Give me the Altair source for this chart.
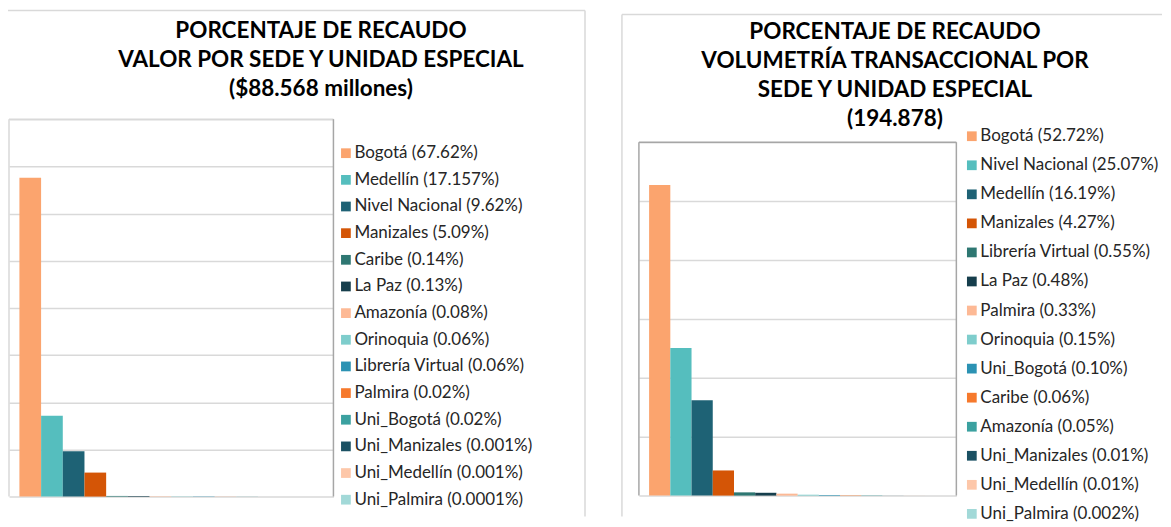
import altair as alt
import pandas as pd

# ---------------- data ----------------
left_names = ["Bogotá", "Medellín", "Nivel Nacional", "Manizales", "Caribe", "La Paz",
              "Amazonía", "Orinoquia", "Librería Virtual", "Palmira", "Uni_Bogotá",
              "Uni_Manizales", "Uni_Medellín", "Uni_Palmira"]
left_values = [67.62, 17.157, 9.62, 5.09, 0.14, 0.13, 0.08, 0.06, 0.06, 0.02, 0.02,
               0.001, 0.001, 0.0001]
left_pct = ["67.62%", "17.157%", "9.62%", "5.09%", "0.14%", "0.13%", "0.08%", "0.06%",
            "0.06%", "0.02%", "0.02%", "0.001%", "0.001%", "0.0001%"]

right_names = ["Bogotá", "Nivel Nacional", "Medellín", "Manizales", "Librería Virtual",
               "La Paz", "Palmira", "Orinoquia", "Uni_Bogotá", "Caribe", "Amazonía",
               "Uni_Manizales", "Uni_Medellín", "Uni_Palmira"]
right_values = [52.72, 25.07, 16.19, 4.27, 0.55, 0.48, 0.33, 0.15, 0.10, 0.06, 0.05,
                0.01, 0.01, 0.002]
right_pct = ["52.72%", "25.07%", "16.19%", "4.27%", "0.55%", "0.48%", "0.33%", "0.15%",
             "0.10%", "0.06%", "0.05%", "0.01%", "0.01%", "0.002%"]

palette = ["#FBA46E", "#55BEBE", "#1E6275", "#D45506", "#2E7772", "#163E4C", "#FDB995",
           "#7ECDCC", "#2B92B3", "#F6792C", "#3BA1A0", "#1B5163", "#FDC7A9", "#A2D9D8"]

left_title = ["PORCENTAJE DE RECAUDO", "VALOR POR SEDE Y UNIDAD ESPECIAL",
              "($88.568  millones)"]
right_title = ["PORCENTAJE DE RECAUDO", "VOLUMETRÍA TRANSACCIONAL POR",
               "SEDE Y UNIDAD ESPECIAL", "(194.878)"]

FONT = "Lato"
GRID = "#d9d9d9"
DARK = "#a6a6a6"


def panel(names, values, pct, title, ymax, w, h, yrange, title_dx, title_offset,
          leg_x, leg_y, row_pad, lines):
    labels = [f"{n} ({p})" for n, p in zip(names, pct)]
    df = pd.DataFrame({"label": labels, "value": values})
    one = pd.DataFrame({"k": [0]})

    bars = alt.Chart(df).mark_bar().encode(
        x=alt.X("label:N", sort=labels, axis=None,
                scale=alt.Scale(paddingInner=0, paddingOuter=0.48)),
        y=alt.Y("value:Q", title=None,
                scale=alt.Scale(domain=[0, ymax], nice=False, range=yrange),
                axis=alt.Axis(values=list(range(0, ymax + 1, 10)), labels=False,
                              ticks=False, domain=False, grid=True,
                              gridColor=GRID, gridWidth=1.5)),
        color=alt.Color("label:N", scale=alt.Scale(domain=labels, range=palette),
                        legend=alt.Legend(orient="none", legendX=leg_x, legendY=leg_y,
                                          title=None, symbolType="square",
                                          symbolSize=95, symbolStrokeWidth=0,
                                          labelFont=FONT, labelFontSize=17,
                                          labelColor="#262626", rowPadding=row_pad,
                                          labelOffset=0, padding=0, labelLimit=400)),
    )

    layers = [bars]
    for (x1, x2, y1, y2, col) in lines:
        layers.append(alt.Chart(one).mark_rule(color=col, strokeWidth=1.5).encode(
            x=alt.value(x1), x2=alt.value(x2), y=alt.value(y1), y2=alt.value(y2)))

    return alt.layer(*layers).properties(
        width=w, height=h,
        view=alt.ViewBackground(strokeOpacity=0),
        title=alt.TitleParams(text=title, anchor="middle", frame="group", dx=title_dx,
                              offset=title_offset, font=FONT, fontSize=22.5,
                              fontWeight="bold", color="#000000", lineHeight=29),
    )


# left panel: plot area 325 x 378
left = panel(left_names, left_values, left_pct, left_title, 80, 325, 378, [378, 0],
             150, -91, 329, 25.5, 8.7,
             [(-2, 577, -109, -109, GRID),      # outer frame
              (-2, -2, -109, 398, GRID),
              (577, 577, -109, 398, GRID),
              (0, 0, 0, 378, GRID),             # plot border
              (0, 325, 0, 0, GRID),
              (325, 325, 0, 378, DARK)])

# right panel: plot area 318 x 354, placed 23px lower than the left one
right = panel(right_names, right_values, right_pct, right_title, 60, 318, 377, [377, 23],
              97.5, -117, 325, 8.5, 11.1,
              [(-17, 524, -105, -105, GRID),    # outer frame
               (-17, -17, -105, 398, GRID),
               (0, 0, 23, 377, DARK),           # plot border
               (0, 318, 23, 23, DARK),
               (318, 318, 23, 377, DARK)])

chart = alt.hconcat(left, right, spacing=35).resolve_scale(
    x="independent", y="independent", color="independent"
).resolve_legend(color="independent").properties(
    padding={"left": -2, "top": 1, "right": 0, "bottom": 0}
).configure(background="white")

chart.save("out.html", embed_options={"renderer": "svg", "actions": False})
